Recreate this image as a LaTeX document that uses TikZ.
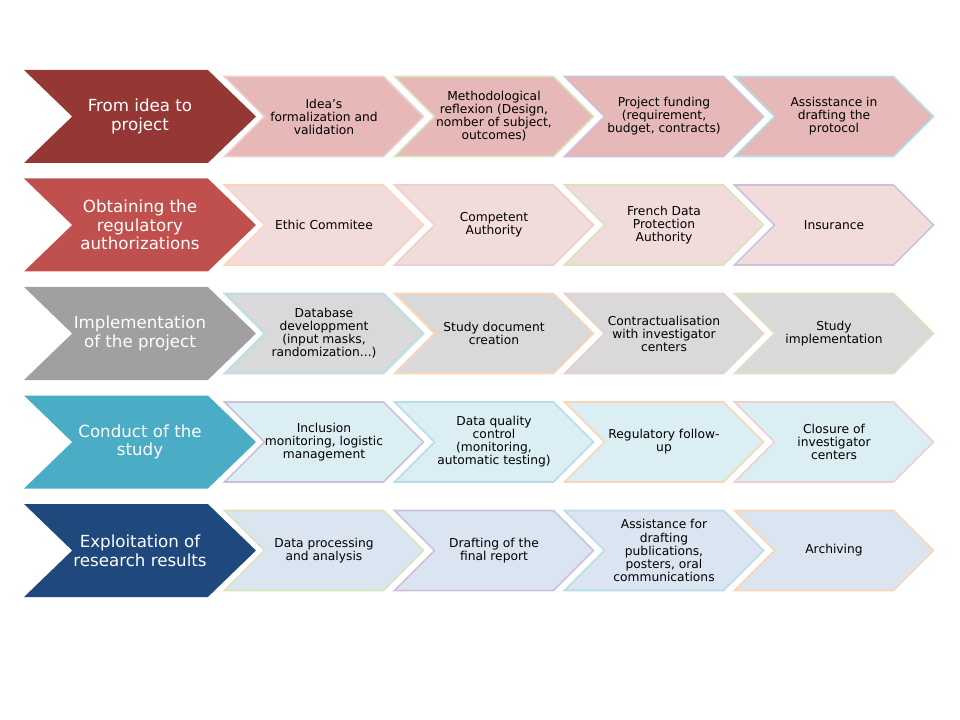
\documentclass[tikz,border=0pt]{standalone}
\usepackage{fontspec}
\setmainfont{DejaVu Sans}
\usepackage{xcolor}
\usepackage{tikz}
\usetikzlibrary{shapes.symbols, positioning}

% row colours
\definecolor{redD}{HTML}{953735}
\definecolor{redL}{HTML}{E6B9B8}
\definecolor{roseD}{HTML}{C0504D}
\definecolor{roseL}{HTML}{F2DCDB}
\definecolor{greyD}{HTML}{A0A0A0}
\definecolor{greyL}{HTML}{D9D9D9}
\definecolor{aquaD}{HTML}{4BACC6}
\definecolor{aquaL}{HTML}{DAEEF3}
\definecolor{navyD}{HTML}{1F497D}
\definecolor{navyL}{HTML}{DBE5F1}
% outline colours
\definecolor{lnRed}{HTML}{EDCFCE}
\definecolor{lnGreen}{HTML}{D7E4BD}
\definecolor{lnPurple}{HTML}{CCC1DA}
\definecolor{lnBlue}{HTML}{B7DEE8}
\definecolor{lnOrange}{HTML}{FCD5B5}

\begin{document}
\begin{tikzpicture}[
    x=0.75pt, y=0.75pt,
    phase/.style={
        signal,
        signal to=east,
        signal from=west,
        signal pointer angle=88,
        minimum width=174pt,
        minimum height=69.75pt,
        inner sep=0pt,
        align=center,
        text=white,
        font=\fontsize{12.5}{14}\selectfont
    },
    stepbox/.style={
        signal,
        signal to=east,
        signal from=west,
        signal pointer angle=90,
        minimum width=149.25pt,
        minimum height=60pt,
        inner sep=0pt,
        line width=1.3pt,
        align=center,
        text=black,
        font=\fontsize{9.2}{9.8}\selectfont
    }
]
\useasboundingbox (0,0) rectangle (960,-720);

% ==========================================
% FROM IDEA TO PROJECT
% ==========================================
\node[phase, fill=redD] (p1) at (140,-116.5) {From idea to\\project};
\node[stepbox, fill=redL, draw=lnRed] (s11) at (324,-116.5) {Idea's\\formalization and\\validation};
\node[stepbox, fill=redL, draw=lnGreen] (s12) at (494,-116.5) {Methodological\\reflexion (Design,\\nomber of subject,\\outcomes)};
\node[stepbox, fill=redL, draw=lnPurple] (s13) at (664,-116.5) {Project funding\\(requirement,\\budget, contracts)};
\node[stepbox, fill=redL, draw=lnBlue] (s14) at (834,-116.5) {Assisstance in\\drafting the\\protocol};

% ==========================================
% REGULATORY AUTHORIZATIONS
% ==========================================
\node[phase, fill=roseD] (p2) at (140,-225) {Obtaining the\\regulatory\\authorizations};
\node[stepbox, fill=roseL, draw=lnOrange] (s21) at (324,-225) {Ethic Commitee};
\node[stepbox, fill=roseL, draw=lnRed] (s22) at (494,-225) {Competent\\Authority};
\node[stepbox, fill=roseL, draw=lnGreen] (s23) at (664,-225) {French Data\\Protection\\Authority};
\node[stepbox, fill=roseL, draw=lnPurple] (s24) at (834,-225) {Insurance};

% ==========================================
% IMPLEMENTATION
% ==========================================
\node[phase, fill=greyD] (p3) at (140,-333.5) {Implementation\\of the project};
\node[stepbox, fill=greyL, draw=lnBlue] (s31) at (324,-333.5) {Database\\developpment\\(input masks,\\randomization...)};
\node[stepbox, fill=greyL, draw=lnOrange] (s32) at (494,-333.5) {Study document\\creation};
\node[stepbox, fill=greyL, draw=lnRed] (s33) at (664,-333.5) {Contractualisation\\with investigator\\centers};
\node[stepbox, fill=greyL, draw=lnGreen] (s34) at (834,-333.5) {Study\\implementation};

% ==========================================
% CONDUCT
% ==========================================
\node[phase, fill=aquaD] (p4) at (140,-442) {Conduct of the\\study};
\node[stepbox, fill=aquaL, draw=lnPurple] (s41) at (324,-442) {Inclusion\\monitoring, logistic\\management};
\node[stepbox, fill=aquaL, draw=lnBlue] (s42) at (494,-442) {Data quality\\control\\(monitoring,\\automatic testing)};
\node[stepbox, fill=aquaL, draw=lnOrange] (s43) at (664,-442) {Regulatory follow-\\up};
\node[stepbox, fill=aquaL, draw=lnRed] (s44) at (834,-442) {Closure of\\investigator\\centers};

% ==========================================
% EXPLOITATION
% ==========================================
\node[phase, fill=navyD] (p5) at (140,-550.5) {Exploitation of\\research results};
\node[stepbox, fill=navyL, draw=lnGreen] (s51) at (324,-550.5) {Data processing\\and analysis};
\node[stepbox, fill=navyL, draw=lnPurple] (s52) at (494,-550.5) {Drafting of the\\final report};
\node[stepbox, fill=navyL, draw=lnBlue] (s53) at (664,-550.5) {Assistance for\\drafting\\publications,\\posters, oral\\communications};
\node[stepbox, fill=navyL, draw=lnOrange] (s54) at (834,-550.5) {Archiving};

\end{tikzpicture}
\end{document}
